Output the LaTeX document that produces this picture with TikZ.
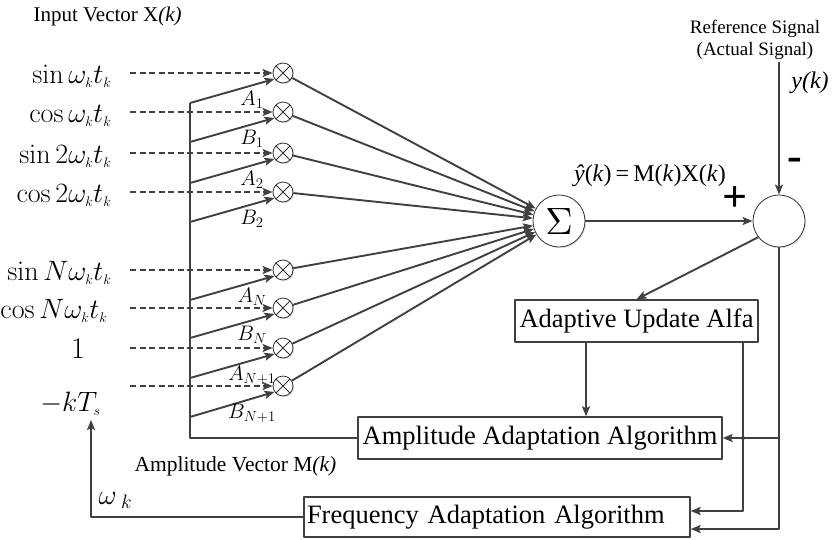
\documentclass[tikz,border=0pt]{standalone}
\usepackage{fix-cm}
\usepackage[no-math]{fontspec}
\setmainfont{Liberation Serif}
\usetikzlibrary{arrows.meta,shadows,calc}
\definecolor{lc}{HTML}{404040}
\begin{document}
\begin{tikzpicture}[x=1pt,y=-1pt,line join=round,
  ln/.style={draw=lc,line width=1.9pt},
  arr/.style={ln,-{Stealth[length=10pt,width=8pt,inset=2pt]}},
  dsh/.style={arr,dash pattern=on 6pt off 3.5pt},
  shd/.style={drop shadow={shadow xshift=1.2pt,shadow yshift=-1.2pt,opacity=0.22}},
  mult/.style={circle,draw=black!80,line width=0.8pt,fill=white,shd,minimum size=20pt,inner sep=0pt,
    path picture={\draw[black!80,line width=0.8pt]
      (path picture bounding box.south west) -- (path picture bounding box.north east)
      (path picture bounding box.north west) -- (path picture bounding box.south east);}},
  bigc/.style={circle,draw=black!80,line width=0.8pt,fill=white,shd,minimum size=52pt,inner sep=0pt},
  blk/.style={draw=lc,line width=1.4pt,fill=white,shd,minimum height=42pt,inner sep=3pt,
    font=\fontsize{26.5}{30}\selectfont},
  inlab/.style={anchor=base east,font=\fontsize{28}{30}\selectfont},
  wgt/.style={font=\fontsize{21}{24}\selectfont},
  wlab/.style={font=\fontsize{19}{22}\selectfont},
  captxt/.style={font=\fontsize{21}{24}\selectfont}]
\useasboundingbox (0,0) rectangle (833,539);

% caption of the input vector
\node[captxt,anchor=west] (xin) at (30,16) {Input Vector X\textit{(k)}};

% multipliers, one per harmonic term
\foreach \i/\y in {1/73,2/112,3/153,4/192,5/270,6/308,7/348,8/386}
  \node[mult] (m\i) at (283,\y) {};

% input terms
\node[inlab] (x1) at (115,83)  {$\sin\omega_{\scriptscriptstyle k} t_{\scriptscriptstyle k}$};
\node[inlab] (x2) at (115,122) {$\cos\omega_{\scriptscriptstyle k} t_{\scriptscriptstyle k}$};
\node[inlab] (x3) at (115,163) {$\sin 2\omega_{\scriptscriptstyle k} t_{\scriptscriptstyle k}$};
\node[inlab] (x4) at (115,202) {$\cos 2\omega_{\scriptscriptstyle k} t_{\scriptscriptstyle k}$};
\node[inlab] (x5) at (115,280) {$\sin N\omega_{\scriptscriptstyle k} t_{\scriptscriptstyle k}$};
\node[inlab] (x6) at (111,318) {$\cos N\omega_{\scriptscriptstyle k} t_{\scriptscriptstyle k}$};
\node[inlab,anchor=base,font=\fontsize{30}{32}\selectfont] (x7) at (78,358) {$1$};
\node[inlab,font=\fontsize{28}{30}\selectfont] (x8) at (104,411) {$-kT_{\scriptscriptstyle s}$};

% dashed signal lines into the multipliers
\foreach \i/\y in {1/73,2/112,3/153,4/192,5/270,6/308,7/348,8/386}{
  \coordinate (d\i) at (130,\y);
  \draw[dsh] (d\i) -- (m\i.west);
}
\foreach \y in {112,153,192,270,308,348,386}
  \fill[lc] (190,\y) circle (1.6pt);

% amplitude bus and weight arrows
\node[blk] (amp) at (540,438) [minimum width=364pt] {Amplitude Adaptation Algorithm};
\coordinate (bt) at (190,103);
\draw[ln] (bt) -- (bt |- amp.west) -- (amp.west);
\foreach \i/\y in {1/103,2/142,3/183,4/222,5/300,6/338,7/378,8/417}{
  \coordinate (w\i) at (190,\y);
  \draw[arr] (w\i) -- (m\i.215);
}
\foreach \i/\t in {1/A_1,2/B_1,3/A_2,4/B_2,5/A_N,6/B_N,7/A_{N+1},8/B_{N+1}}
  \node[wgt] (l\i) at ($(m\i)+(-31,27)$) {$\t$};

% summation and error nodes
\node[bigc] (sum) at (559,221) {\resizebox{!}{26pt}{$\Sigma$}};
\node[bigc] (err) at (779,221) {};
\foreach \i in {1,...,8}
  \draw[arr] (m\i) -- (sum);
\draw[arr] (sum) -- (err);
\node[font=\fontsize{24}{26}\selectfont] (eq) at (650,176)
  {\textit{\^y}(\textit{k})\,=\,M(\textit{k})X(\textit{k})};
\node[font=\fontsize{44}{44}\selectfont\bfseries] (plus) at (735,199) {+};
\node[font=\fontsize{44}{44}\selectfont\bfseries] (minus) at (795,164) {-};

% reference signal input
\node[wlab,align=center] (ref) at (755,40) {Reference Signal\\(Actual Signal)};
\coordinate (rs) at (779,62);
\draw[arr] (rs) -- (err.north);
\node[font=\fontsize{24}{26}\selectfont\itshape] (yk) at (810,83) {y(k)};

% adaptation blocks
\node[blk] (adapt) at (636.5,321) [minimum width=243pt] {Adaptive Update Alfa};
\node[blk,text width=380pt,align=left,minimum height=40pt] (freq) at (497,517) {Frequency Adaptation Algorithm};
\draw[arr] (err.218) -- (adapt.north);
\coordinate (c1) at (586,0);
\coordinate (c2) at (743,0);
\draw[arr] (adapt.south -| c1) -- (amp.north -| c1);
\draw[arr] (adapt.south -| c2) |- ($(freq.east)+(0,-6)$);
\draw[arr] (err.south) |- ($(freq.east)+(0,12)$);
\draw[arr] (err.south |- amp.east) -- (amp.east);
\fill[lc] (c2 |- amp.east) circle (2pt);

% frequency feedback
\coordinate (wt) at (91,420);
\draw[arr] (freq.west) -| (wt);
\node[anchor=base west,font=\fontsize{28}{30}\selectfont] (wk) at (95,504) {$\omega_{\;\scriptstyle k}$};
\node[captxt,anchor=west,font=\fontsize{21.5}{24}\selectfont] (mvec) at (131,466) {Amplitude Vector M\textit{(k)}};
\end{tikzpicture}
\end{document}
